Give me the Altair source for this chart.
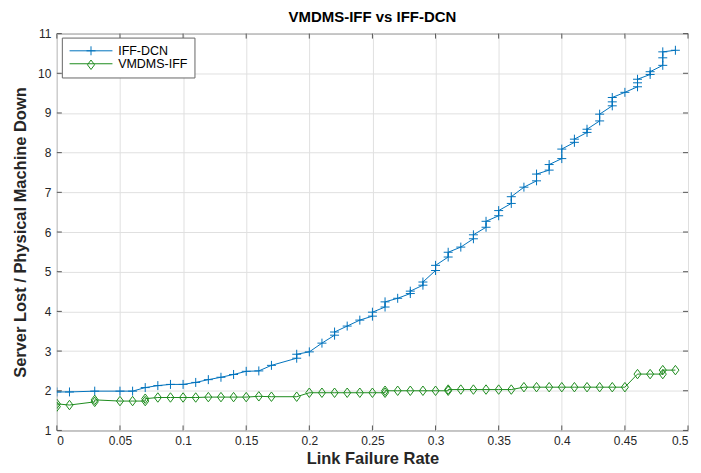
import altair as alt
import pandas as pd

# ---- data ----
series_names = ["IFF-DCN", "VMDMS-IFF"]
marker_keys = ["IFF-DCN (marker)", "VMDMS-IFF (marker)"]
series_colors = ["#0072BD", "#1E8C1E"]

blue_x = [0.00, 0.01, 0.03, 0.05, 0.06, 0.07, 0.08, 0.09, 0.10, 0.11, 0.12, 0.13, 0.14, 0.15,
          0.16, 0.17, 0.19, 0.19, 0.20, 0.21, 0.22, 0.22, 0.23, 0.24, 0.25, 0.25, 0.26, 0.26,
          0.27, 0.28, 0.28, 0.29, 0.29, 0.30, 0.30, 0.31, 0.31, 0.32, 0.33, 0.33, 0.34, 0.34,
          0.35, 0.35, 0.36, 0.36, 0.37, 0.38, 0.38, 0.39, 0.39, 0.40, 0.40, 0.41, 0.41, 0.42,
          0.42, 0.43, 0.43, 0.44, 0.44, 0.44, 0.45, 0.46, 0.46, 0.46, 0.47, 0.47, 0.48, 0.48,
          0.48, 0.49]
blue_y = [1.97, 1.97, 1.99, 1.99, 1.99, 2.08, 2.13, 2.16, 2.16, 2.21, 2.28, 2.34, 2.41, 2.49,
          2.50, 2.64, 2.82, 2.92, 2.98, 3.20, 3.40, 3.48, 3.63, 3.78, 3.88, 3.98, 4.11, 4.24,
          4.33, 4.45, 4.51, 4.66, 4.74, 5.03, 5.16, 5.37, 5.49, 5.62, 5.83, 5.93, 6.12, 6.27,
          6.41, 6.54, 6.72, 6.89, 7.13, 7.29, 7.46, 7.56, 7.70, 7.85, 8.09, 8.26, 8.34, 8.51,
          8.59, 8.80, 8.97, 9.18, 9.28, 9.39, 9.52, 9.66, 9.76, 9.85, 9.97, 10.04, 10.20, 10.39,
          10.54, 10.58]

green_x = [0.00, 0.00, 0.01, 0.03, 0.03, 0.05, 0.06, 0.07, 0.07, 0.08, 0.09, 0.10, 0.11, 0.12,
           0.13, 0.14, 0.15, 0.16, 0.17, 0.19, 0.20, 0.21, 0.22, 0.23, 0.24, 0.25, 0.26, 0.26,
           0.27, 0.28, 0.29, 0.30, 0.31, 0.31, 0.32, 0.33, 0.34, 0.35, 0.36, 0.37, 0.38, 0.39,
           0.40, 0.41, 0.42, 0.43, 0.44, 0.45, 0.46, 0.47, 0.48, 0.48, 0.49]
green_y = [1.60, 1.67, 1.64, 1.72, 1.77, 1.74, 1.74, 1.74, 1.80, 1.83, 1.83, 1.83, 1.83, 1.84,
           1.84, 1.84, 1.84, 1.86, 1.85, 1.85, 1.95, 1.95, 1.95, 1.95, 1.95, 1.95, 1.95, 2.00,
           2.00, 2.00, 2.00, 2.00, 2.00, 2.03, 2.03, 2.03, 2.03, 2.03, 2.03, 2.09, 2.09, 2.09,
           2.09, 2.09, 2.09, 2.09, 2.09, 2.09, 2.42, 2.42, 2.42, 2.52, 2.52]

x_ticks = [0, 0.05, 0.1, 0.15, 0.2, 0.25, 0.3, 0.35, 0.4, 0.45, 0.5]
y_ticks = [1, 2, 3, 4, 5, 6, 7, 8, 9, 10, 11]

# ---- build table ----
rows = []
for i, (x, y) in enumerate(zip(blue_x, blue_y)):
    rows.append({"rate": x, "value": y, "series": series_names[0], "mk": marker_keys[0], "idx": i})
for i, (x, y) in enumerate(zip(green_x, green_y)):
    rows.append({"rate": x, "value": y, "series": series_names[1], "mk": marker_keys[1], "idx": i})
df = pd.DataFrame(rows)

W, H = 633, 398
FONT = "Liberation Sans"
PLUS = "M-0.95,0L0.95,0M0,-0.95L0,0.95"
DIAMOND = "M0,-1L0.75,0L0,1L-0.75,0Z"
LEG_LINE = "M-1.1,0L7.5,0"
AX = "#555555"

xs = alt.Scale(domain=[0, 0.5], nice=False, zero=False)
ys = alt.Scale(domain=[1, 11], nice=False, zero=False)
x_axis = alt.Axis(values=x_ticks, format="~g", title="Link Failure Rate",
                  labelPadding=5, titlePadding=4)
y_axis = alt.Axis(values=y_ticks, title="Server Lost / Physical Machine Down",
                  labelPadding=6, titlePadding=9)

legend_a = alt.Legend(orient="none", legendX=5, legendY=4, title=None, symbolType=LEG_LINE,
                      symbolSize=100, symbolStrokeWidth=1, padding=7, labelFont=FONT,
                      labelFontSize=12.5, labelColor="#000000", labelOffset=37,
                      strokeColor="#666666", fillColor="#ffffff", rowPadding=0, zindex=1)
legend_b = alt.Legend(orient="none", legendX=21, legendY=4, title=None, symbolSize=90,
                      symbolStrokeWidth=1, padding=7, labelFont=FONT, labelFontSize=12.5,
                      labelExpr="''", labelOffset=5, rowPadding=0, zindex=2)

lines = alt.Chart(df).mark_line(strokeWidth=1, clip=True).encode(
    x=alt.X("rate:Q", scale=xs, axis=x_axis),
    y=alt.Y("value:Q", scale=ys, axis=y_axis),
    color=alt.Color("series:N", scale=alt.Scale(domain=series_names, range=series_colors),
                    legend=legend_a),
    order="idx:Q",
)

points = alt.Chart(df).mark_point(filled=False, strokeWidth=1, opacity=1, size=90, clip=True).encode(
    x=alt.X("rate:Q", scale=xs, axis=x_axis),
    y=alt.Y("value:Q", scale=ys, axis=y_axis),
    stroke=alt.Stroke("mk:N", scale=alt.Scale(domain=marker_keys, range=series_colors),
                      legend=legend_b),
    shape=alt.Shape("mk:N", scale=alt.Scale(domain=marker_keys, range=[PLUS, DIAMOND]),
                    legend=legend_b),
)

tx = pd.DataFrame({"rate": x_ticks})
ty = pd.DataFrame({"value": y_ticks})
tick_bottom = alt.Chart(tx).mark_rule(color=AX, strokeWidth=1).encode(
    x=alt.X("rate:Q", scale=xs, axis=x_axis), y=alt.value(H), y2=alt.value(H - 5))
tick_top = alt.Chart(tx).mark_rule(color=AX, strokeWidth=1).encode(
    x=alt.X("rate:Q", scale=xs, axis=x_axis), y=alt.value(0), y2=alt.value(5))
tick_left = alt.Chart(ty).mark_rule(color=AX, strokeWidth=1).encode(
    y=alt.Y("value:Q", scale=ys, axis=y_axis), x=alt.value(0), x2=alt.value(5))
tick_right = alt.Chart(ty).mark_rule(color=AX, strokeWidth=1).encode(
    y=alt.Y("value:Q", scale=ys, axis=y_axis), x=alt.value(W), x2=alt.value(W - 5))

chart = alt.layer(lines, points, tick_bottom, tick_top, tick_left, tick_right).properties(
    width=W, height=H,
    title=alt.TitleParams("VMDMS-IFF vs IFF-DCN", font=FONT, fontSize=15, fontWeight="bold",
                          color="#000000", offset=3, anchor="middle"),
    autosize=alt.AutoSizeParams(type="none"),
    padding={"left": 49, "top": 25, "right": 5, "bottom": 40},
).configure_view(stroke=AX, strokeWidth=1).configure_axis(
    grid=True, gridColor="#e0e0e0", gridWidth=1, ticks=False, domain=False,
    labelFont=FONT, labelFontSize=12, labelColor="#262626",
    titleFont=FONT, titleFontSize=16.5, titleFontWeight="bold", titleColor="#262626",
)

chart.save("out.html", embed_options={"renderer": "svg", "actions": False})
